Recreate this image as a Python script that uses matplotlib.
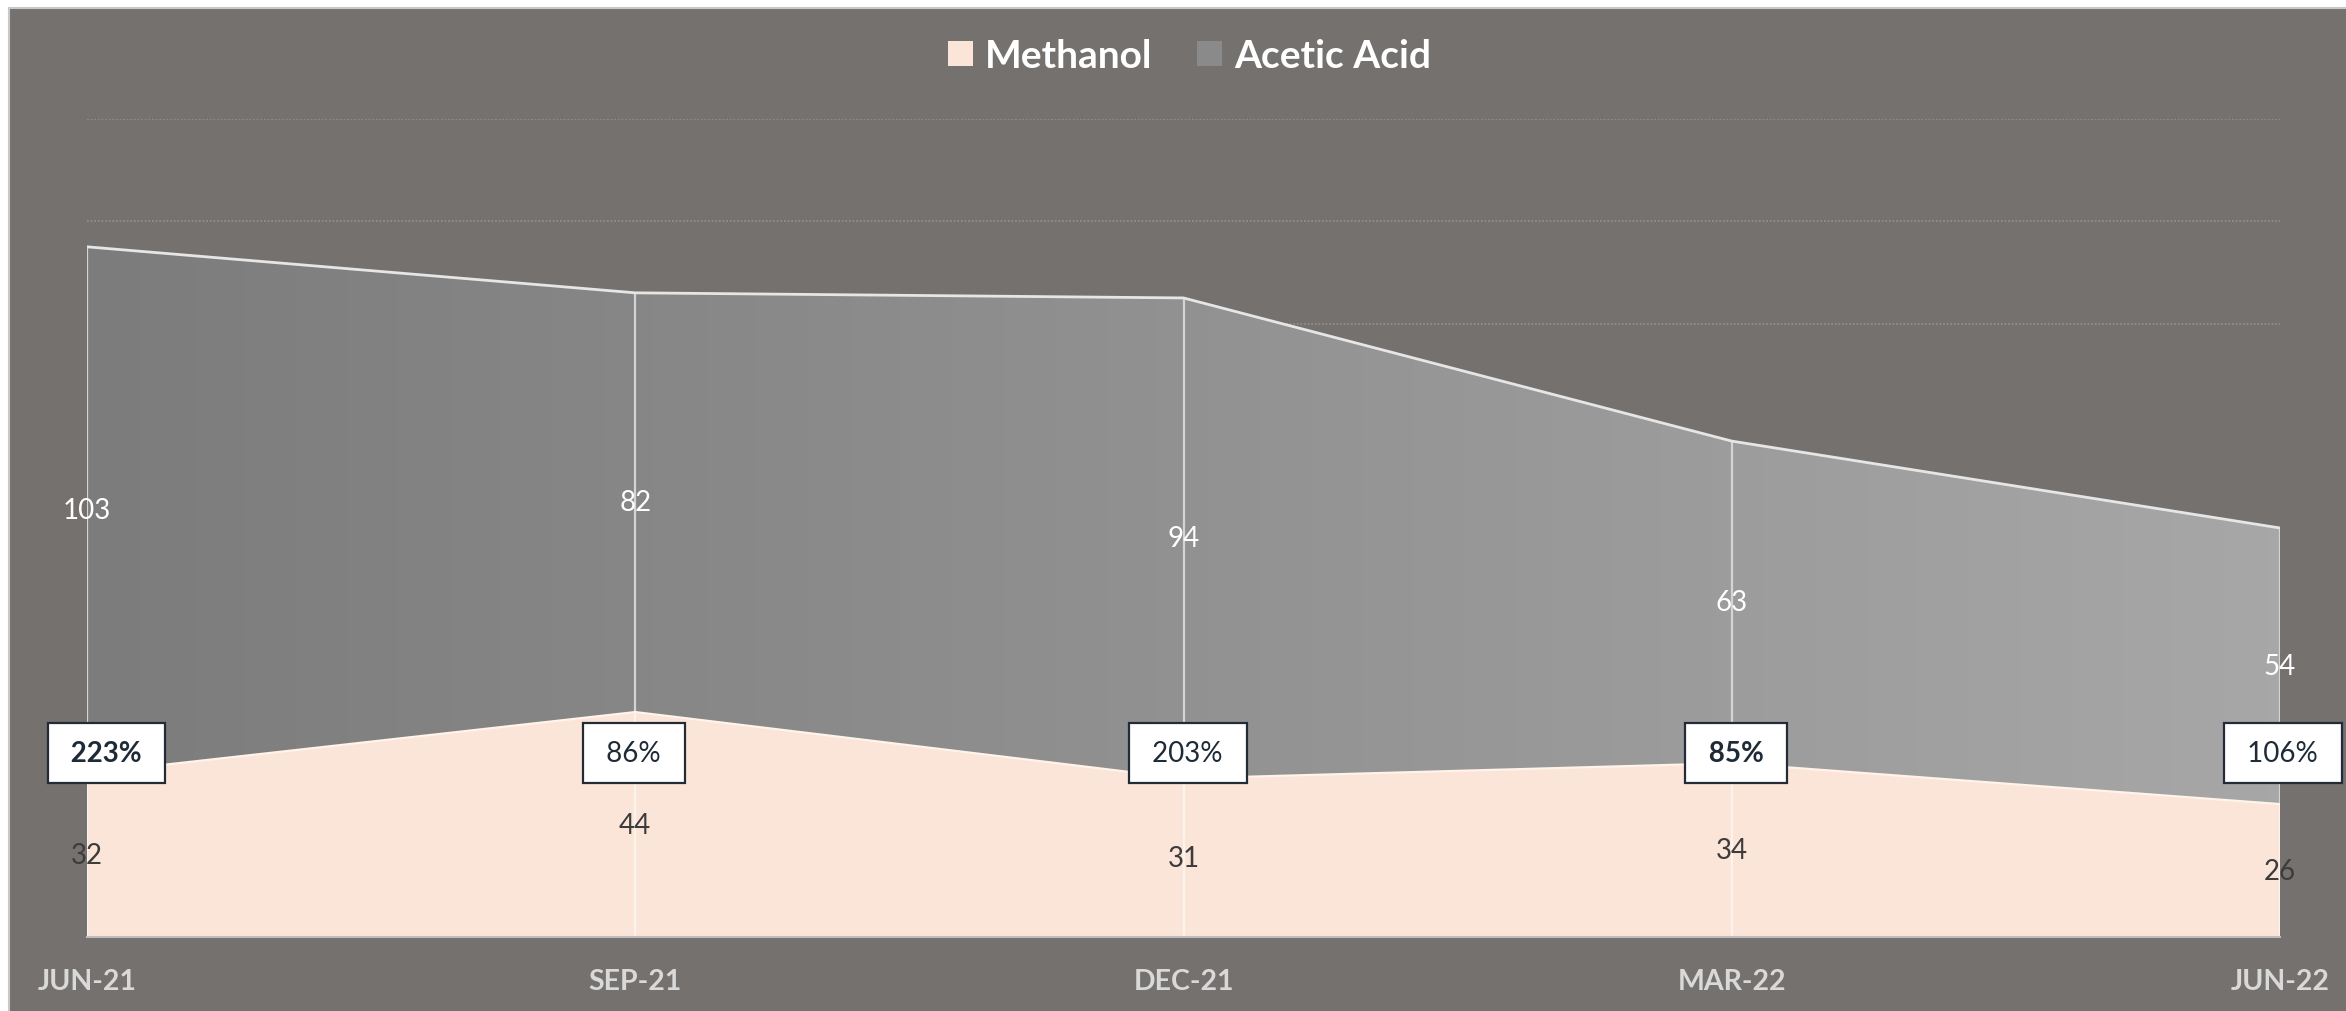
import matplotlib
matplotlib.use('Agg')
import matplotlib.pyplot as plt
import numpy as np
from matplotlib.patches import Patch, Rectangle
from matplotlib.colors import LinearSegmentedColormap

categories = ['JUN-21', 'SEP-21', 'DEC-21', 'MAR-22', 'JUN-22']
methanol = [32, 44, 31, 34, 26]
acetic = [103, 82, 94, 63, 54]
ratio_labels = ['223%', '86%', '203%', '85%', '106%']
ratio_bold = [True, False, False, True, False]
grid_levels = [120, 140, 160]

plt.rcParams['font.family'] = ['Lato', 'DejaVu Sans']

W, H = 2346, 1012
fig = plt.figure(figsize=(W / 100, H / 100), dpi=100, facecolor='white')
bg = '#75716F'
fig.patches.append(Rectangle((9 / W, -0.01), 1.02 - 9 / W, 1.01 - 9 / H,
                             transform=fig.transFigure, facecolor=bg,
                             edgecolor='#C8C8C8', lw=1.5, zorder=-10))

ax = fig.add_axes([87 / W, 1 - 938 / H, (2280 - 87) / W, (938 - 120) / H])
ax.set_facecolor('none')
ax.set_zorder(1)

x = np.arange(len(categories))
m = np.array(methanol, dtype=float)
a = np.array(acetic, dtype=float)
tot = m + a

# gridlines
ax.set_yticks(grid_levels)
ax.yaxis.grid(True, color='#918D8B', lw=1.3, ls=(0, (1, 1)))
ax.set_axisbelow(True)

# acetic area with horizontal gradient
poly = ax.fill_between(x, m, tot, facecolor='none', edgecolor='none', zorder=1)
cmap = LinearSegmentedColormap.from_list('g', ['#7C7C7C', '#A7A7A7'])
grad = np.linspace(0, 1, 256).reshape(1, -1)
img = ax.imshow(grad, extent=[0, len(categories) - 1, 0, 160], aspect='auto',
                cmap=cmap, zorder=1, interpolation='bilinear')
img.set_clip_path(poly.get_paths()[0], ax.transData)

# methanol area
ax.fill_between(x, 0, m, facecolor='#FBE5D8', edgecolor='none', zorder=2)

# drop lines
ax.vlines(x, m, tot, color='#D4D4D4', lw=1.6, zorder=3)
ax.vlines(x, 0, m, color='white', lw=1.6, alpha=0.55, zorder=3)

# top edges
ax.plot(x, tot, color='#E6E6E6', lw=2.0, zorder=4, solid_joinstyle='miter')
ax.plot(x, m, color='#FFF3EA', lw=1.6, zorder=4)

ax.set_xlim(0, len(categories) - 1)
ax.set_ylim(0, 160)

for s in ['top', 'left', 'right']:
    ax.spines[s].set_visible(False)
ax.spines['bottom'].set_color('#BDBDBD')
ax.spines['bottom'].set_linewidth(1.5)
ax.spines['bottom'].set_zorder(5)

ax.set_xticks(x)
ax.set_xticklabels(categories, fontsize=20.5, fontweight='bold', color='#D9D9D9')
ax.tick_params(axis='x', length=0, pad=22)
ax.tick_params(axis='y', length=0, labelleft=False)

# data labels
for i in range(len(categories)):
    ax.text(x[i], m[i] / 2, str(methanol[i]), ha='center', va='center',
            fontsize=20, color='#3C3C3C', zorder=6)
    ax.text(x[i], m[i] + a[i] / 2, str(acetic[i]), ha='center', va='center',
            fontsize=20, color='white', zorder=6)

# ratio boxes
box_y = 36
x_off = [14, -1, 3, 3, 2]
for i in range(len(categories)):
    ax.annotate(' ' + ratio_labels[i] + ' ', xy=(x[i], box_y), xytext=(x_off[i], 0),
                textcoords='offset points', ha='center', va='center',
                fontsize=20, color='#1F2A37',
                fontweight='bold' if ratio_bold[i] else 'normal',
                bbox=dict(boxstyle='square,pad=0.6', facecolor='white',
                          edgecolor='#222B36', lw=1.6),
                zorder=7, annotation_clip=False)

handles = [Patch(facecolor='#FBE5D8', edgecolor='none'),
           Patch(facecolor='#8A8A8A', edgecolor='none')]
fig.legend(handles, ['Methanol', 'Acetic Acid'], loc='center',
           bbox_to_anchor=(0.507, 0.944), ncol=2, frameon=False,
           prop={'weight': 'bold', 'size': 28}, labelcolor='white',
           handlelength=0.65, handleheight=0.65, handletextpad=0.3,
           columnspacing=1.15)

fig.savefig('out.png', dpi=100, facecolor=fig.get_facecolor())
